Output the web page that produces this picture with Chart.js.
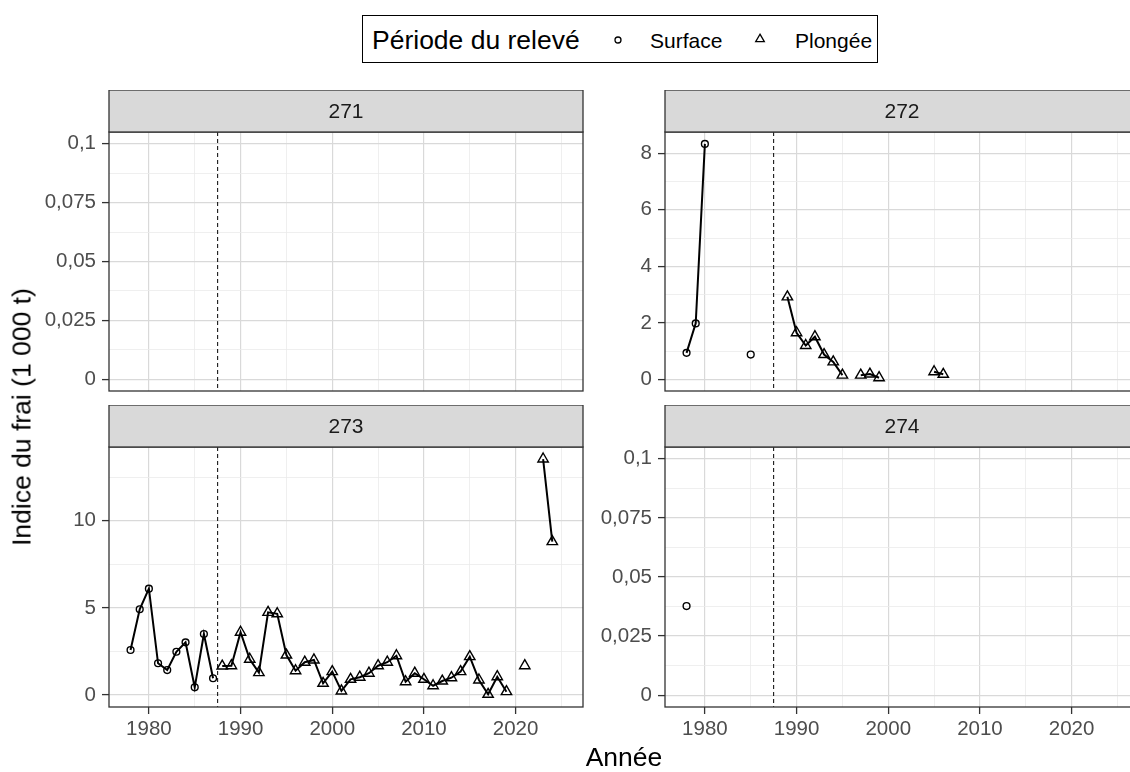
<!DOCTYPE html>
<html lang="fr">
<head>
<meta charset="utf-8">
<title>Indice du frai</title>
<script src="https://cdn.jsdelivr.net/npm/chart.js@4.4.1/dist/chart.umd.min.js"></script>
<style>
  html, body { margin: 0; padding: 0; width: 1130px; height: 772px; overflow: hidden; background: #fff; }
  body { position: relative; font-family: "Liberation Sans", Arial, sans-serif; }
  canvas { position: absolute; }
  .legend { position: absolute; left: 362px; top: 15px; width: 516px; height: 48px; box-sizing: border-box; border: 1.4px solid #000; }
  .lab { position: absolute; transform: translateY(-50%); white-space: nowrap; color: #000; line-height: 1; }
  .title { font-size: 26.5px; }
  .item { font-size: 21px; }
  .sym { position: absolute; }
  .ytitle { position: absolute; left: 22px; top: 417px; transform: translate(-50%, -50%) rotate(-90deg); font-size: 26.5px; white-space: nowrap; }
  .xtitle { position: absolute; left: 624px; top: 757px; transform: translate(-50%, -50%); font-size: 26.5px; white-space: nowrap; }
</style>
</head>
<body>
<canvas id="p271" width="590" height="302" style="left:0;top:90px"></canvas>
<canvas id="p272" width="560" height="302" style="left:580px;top:90px"></canvas>
<canvas id="p273" width="590" height="367" style="left:0;top:405px"></canvas>
<canvas id="p274" width="560" height="367" style="left:580px;top:405px"></canvas>

<div class="legend">
  <span class="lab title" style="left:9px;top:24px">Période du relevé</span>
  <svg class="sym" style="left:249px;top:18px" width="12" height="12"><circle cx="6" cy="6" r="3" fill="none" stroke="#000" stroke-width="1.3"/></svg>
  <span class="lab item" style="left:287px;top:24px">Surface</span>
  <svg class="sym" style="left:390px;top:16px" width="14" height="14"><polygon points="7,2.2 11.3,9.6 2.7,9.6" fill="none" stroke="#000" stroke-width="1.3"/></svg>
  <span class="lab item" style="left:432px;top:24px">Plongée</span>
</div>
<div class="ytitle">Indice du frai (1 000 t)</div>
<div class="xtitle">Année</div>

<script>
// x axis (years) shared by all panels
const xMin = 1975.65;
const xMax = 2027.35;
const xMajor = [1980, 1990, 2000, 2010, 2020];
const xMinor = [1985, 1995, 2005, 2015, 2025];
const changeYear = 1987.5;

// y axis ticks
const smallMajor = [0, 0.025, 0.05, 0.075, 0.1];
const smallMinor = [0.0125, 0.0375, 0.0625, 0.0875];
const major272 = [0, 2, 4, 6, 8];
const minor272 = [1, 3, 5, 7];
const major273 = [0, 5, 10];
const minor273 = [2.5, 7.5, 12.5];

// 272
const years272Surface = [1978, 1979, 1980, 1981, 1982, 1983, 1984, 1985];
const values272Surface = [0.94, 1.98, 8.33, null, null, null, null, 0.88];
const years272Dive = [1989, 1990, 1991, 1992, 1993, 1994, 1995, 1996, 1997, 1998, 1999, 2000, 2001, 2002, 2003, 2004, 2005, 2006];
const values272Dive = [2.92, 1.65, 1.2, 1.51, 0.88, 0.62, 0.15, null, 0.15, 0.19, 0.06, null, null, null, null, null, 0.27, 0.18];

// 273
const years273Surface = [1978, 1979, 1980, 1981, 1982, 1983, 1984, 1985, 1986, 1987];
const values273Surface = [2.58, 4.92, 6.1, 1.82, 1.43, 2.48, 3.02, 0.44, 3.5, 0.96];
const years273Dive = [1988, 1989, 1990, 1991, 1992, 1993, 1994, 1995, 1996, 1997, 1998, 1999, 2000, 2001, 2002, 2003,
  2004, 2005, 2006, 2007, 2008, 2009, 2010, 2011, 2012, 2013, 2014, 2015, 2016, 2017, 2018, 2019, 2020, 2021, 2022, 2023, 2024];
const values273Dive = [1.66, 1.68, 3.6, 2.05, 1.28, 4.74, 4.66, 2.29, 1.39, 1.88, 2.01, 0.67, 1.34, 0.23, 0.9, 1.02,
  1.25, 1.68, 1.88, 2.25, 0.76, 1.25, 0.9, 0.53, 0.8, 0.99, 1.34, 2.2, 0.86, 0.04, 1.05, 0.19, null, 1.68, null, 13.54, 8.8];

// 274
const years274Surface = [1978];
const values274Surface = [0.0377];

const FONT = '"Liberation Sans", Arial, sans-serif';
const GRID_MAJOR = '#d9d9d9';
const GRID_MINOR = '#ebebeb';

const fmt = v => String(v).replace('.', ',');
const series = (years, values) => years.map((yr, i) => ({ x: yr, y: values[i] }));

// panel border, grey strip on top and the dashed line between survey periods
const panelFrame = {
  id: 'panelFrame',
  beforeDatasetsDraw(chart, args, opts) {
    const { ctx, chartArea: a, scales: { x } } = chart;
    const px = x.getPixelForValue(changeYear);
    ctx.save();
    ctx.strokeStyle = '#000';
    ctx.lineWidth = 1;
    ctx.setLineDash([4, 3]);
    ctx.beginPath();
    ctx.moveTo(px, a.top);
    ctx.lineTo(px, a.bottom);
    ctx.stroke();
    ctx.restore();
  },
  afterDraw(chart, args, opts) {
    const { ctx, chartArea: a } = chart;
    const h = opts.stripHeight;
    ctx.save();
    ctx.lineWidth = 1.3;
    ctx.strokeStyle = '#333';
    ctx.strokeRect(a.left, a.top, a.right - a.left, a.bottom - a.top);
    ctx.fillStyle = '#d9d9d9';
    ctx.fillRect(a.left, a.top - h, a.right - a.left, h);
    ctx.strokeRect(a.left, a.top - h, a.right - a.left, h);
    ctx.fillStyle = '#1a1a1a';
    ctx.font = '21px ' + FONT;
    ctx.textAlign = 'center';
    ctx.textBaseline = 'middle';
    ctx.fillText(opts.label, (a.left + a.right) / 2, a.top - h / 2 + 1);
    ctx.restore();
  }
};

function gridFor(major, tickLength) {
  const isMajor = c => c.tick && major.includes(c.tick.value);
  return {
    color: c => isMajor(c) ? GRID_MAJOR : GRID_MINOR,
    lineWidth: c => isMajor(c) ? 1.2 : 0.8,
    tickColor: c => isMajor(c) ? '#333' : 'rgba(0,0,0,0)',
    tickWidth: 1.3,
    tickLength: tickLength,
    drawTicks: tickLength > 0
  };
}

function xScale(showLabels, height) {
  return {
    type: 'linear',
    min: xMin,
    max: xMax,
    afterBuildTicks: s => { s.ticks = xMajor.concat(xMinor).sort((a, b) => a - b).map(v => ({ value: v })); },
    afterFit: s => { s.height = height; s.paddingLeft = 0; s.paddingRight = 0; },
    grid: gridFor(xMajor, showLabels ? 7 : 0),
    border: { display: false },
    ticks: {
      display: showLabels,
      autoSkip: false,
      maxRotation: 0,
      padding: 3,
      color: '#4d4d4d',
      font: { family: FONT, size: 20.5 },
      callback: v => xMajor.includes(v) ? String(v) : ''
    }
  };
}

function yScale(min, max, major, minor, width) {
  return {
    type: 'linear',
    min: min,
    max: max,
    afterBuildTicks: s => { s.ticks = major.concat(minor).sort((a, b) => a - b).map(v => ({ value: v })); },
    // labels sit inside the range, so no extra room at the ends
    afterFit: s => { s.width = width; s.paddingTop = 0; s.paddingBottom = 0; },
    grid: gridFor(major, 7),
    border: { display: false },
    ticks: {
      autoSkip: false,
      padding: 6,
      color: '#4d4d4d',
      font: { family: FONT, size: 20.5 },
      callback: v => major.includes(v) ? fmt(v) : ''
    }
  };
}

function surfaceSet(years, values) {
  return {
    label: 'Surface',
    data: series(years, values),
    borderColor: '#000',
    borderWidth: 2,
    pointStyle: 'circle',
    pointRadius: 3.4,
    pointBorderWidth: 1.4,
    pointBorderColor: '#000',
    pointBackgroundColor: 'rgba(0,0,0,0)',
    spanGaps: false,
    tension: 0,
    fill: false
  };
}

function diveSet(years, values) {
  return {
    label: 'Plongée',
    data: series(years, values),
    borderColor: '#000',
    borderWidth: 2,
    pointStyle: 'triangle',
    pointRadius: 6,
    pointBorderWidth: 1.4,
    pointBorderColor: '#000',
    pointBackgroundColor: 'rgba(0,0,0,0)',
    spanGaps: false,
    tension: 0,
    fill: false
  };
}

function makePanel(id, label, datasets, y, bottomRow, right) {
  return new Chart(document.getElementById(id), {
    type: 'line',
    data: { datasets: datasets },
    options: {
      responsive: false,
      animation: false,
      events: [],
      layout: {
        autoPadding: false,
        padding: { top: 42, right: right, bottom: bottomRow ? 0 : 1, left: 0 }
      },
      scales: {
        x: xScale(bottomRow, bottomRow ? 65 : 0),
        y: y
      },
      plugins: {
        legend: { display: false },
        tooltip: { enabled: false },
        panelFrame: { label: label, stripHeight: 42 }
      }
    },
    plugins: [panelFrame]
  });
}

makePanel('p271', '271', [], yScale(-0.005, 0.105, smallMajor, smallMinor, 109), false, 7);
makePanel('p272', '272', [
  surfaceSet(years272Surface, values272Surface),
  diveSet(years272Dive, values272Dive)
], yScale(-0.41, 8.75, major272, minor272, 85), false, 1);
makePanel('p273', '273', [
  surfaceSet(years273Surface, values273Surface),
  diveSet(years273Dive, values273Dive)
], yScale(-0.69, 14.23, major273, minor273, 109), true, 7);
makePanel('p274', '274', [
  surfaceSet(years274Surface, values274Surface)
], yScale(-0.005, 0.105, smallMajor, smallMinor, 85), true, 1);
</script>
</body>
</html>
